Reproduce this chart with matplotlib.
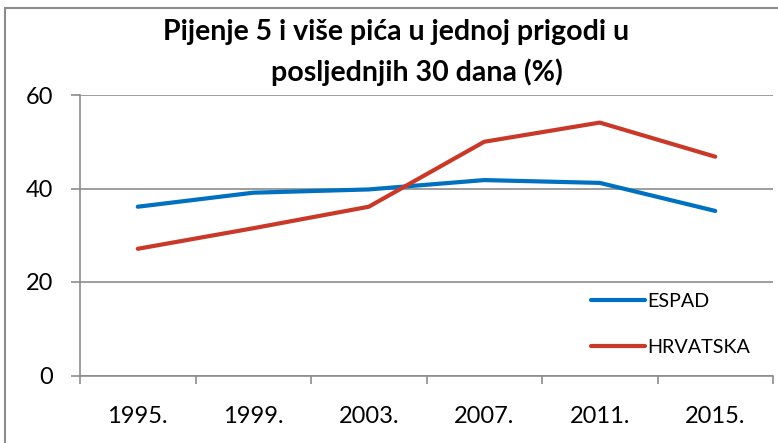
import matplotlib
matplotlib.use("Agg")
import matplotlib.pyplot as plt
from matplotlib.patches import Rectangle

# Data
years = ["1995.", "1999.", "2003.", "2007.", "2011.", "2015."]
espad = [36.1, 39.1, 39.8, 41.8, 41.2, 35.2]
hrvatska = [27.1, 31.5, 36.1, 50.0, 54.1, 46.8]

title_lines = ["Pijenje 5 i više pića u jednoj prigodi u", "posljednjih 30 dana (%)"]

plt.rcParams['font.family'] = ['Lato', 'DejaVu Sans']

fig = plt.figure(figsize=(7.78, 4.43), dpi=100)
ax = fig.add_axes([80 / 778, 1 - 375.5 / 443, (773 - 80) / 778, (375.5 - 95) / 443])

x = list(range(len(years)))
ax.plot(x, espad, color='#0070C0', lw=3, solid_capstyle='round', label='ESPAD')
ax.plot(x, hrvatska, color='#C9392A', lw=3, solid_capstyle='round', label='HRVATSKA')

ax.set_xlim(-0.5, len(years) - 0.5)
ax.set_ylim(0, 60)
ax.set_yticks([0, 20, 40, 60])
ax.yaxis.grid(True, color='#8c8c8c', lw=1.2)
ax.set_axisbelow(True)

ax.set_xticks(x)
ax.set_xticklabels(years)
ax.set_xticks([i - 0.5 for i in range(len(years) + 1)], minor=True)
ax.tick_params(axis='x', which='major', length=0, pad=22, labelsize=17)
ax.tick_params(axis='x', which='minor', length=6, width=1.2, color='#8c8c8c', direction='out')
ax.tick_params(axis='y', length=6.5, width=1.2, color='#8c8c8c', pad=13, labelsize=17)

for s in ['top', 'right']:
    ax.spines[s].set_visible(False)
for s in ['left', 'bottom']:
    ax.spines[s].set_color('#8c8c8c')
    ax.spines[s].set_linewidth(1.2)

# title, two lines as in the original
fig.text(396 / 778, 1 - 32 / 443, title_lines[0], ha='center', va='center',
         fontsize=20.5, fontweight='bold')
fig.text(417 / 778, 1 - 72 / 443, title_lines[1], ha='center', va='center',
         fontsize=20.5, fontweight='bold')

ax.legend(loc='center left', bbox_to_anchor=(591 / 778, 1 - 324.5 / 443),
          bbox_transform=fig.transFigure, frameon=False, fontsize=14.2,
          handlelength=2.75, handletextpad=0.1, labelspacing=1.45,
          borderpad=0, borderaxespad=0)

# chart border (cropped at right and bottom)
fig.patches.append(Rectangle((5 / 778, -0.1), 1.2, 1 - 8 / 443 + 0.1,
                             transform=fig.transFigure, fill=False,
                             edgecolor='#8c8c8c', lw=1.5))

fig.savefig("out.png", dpi=100)
